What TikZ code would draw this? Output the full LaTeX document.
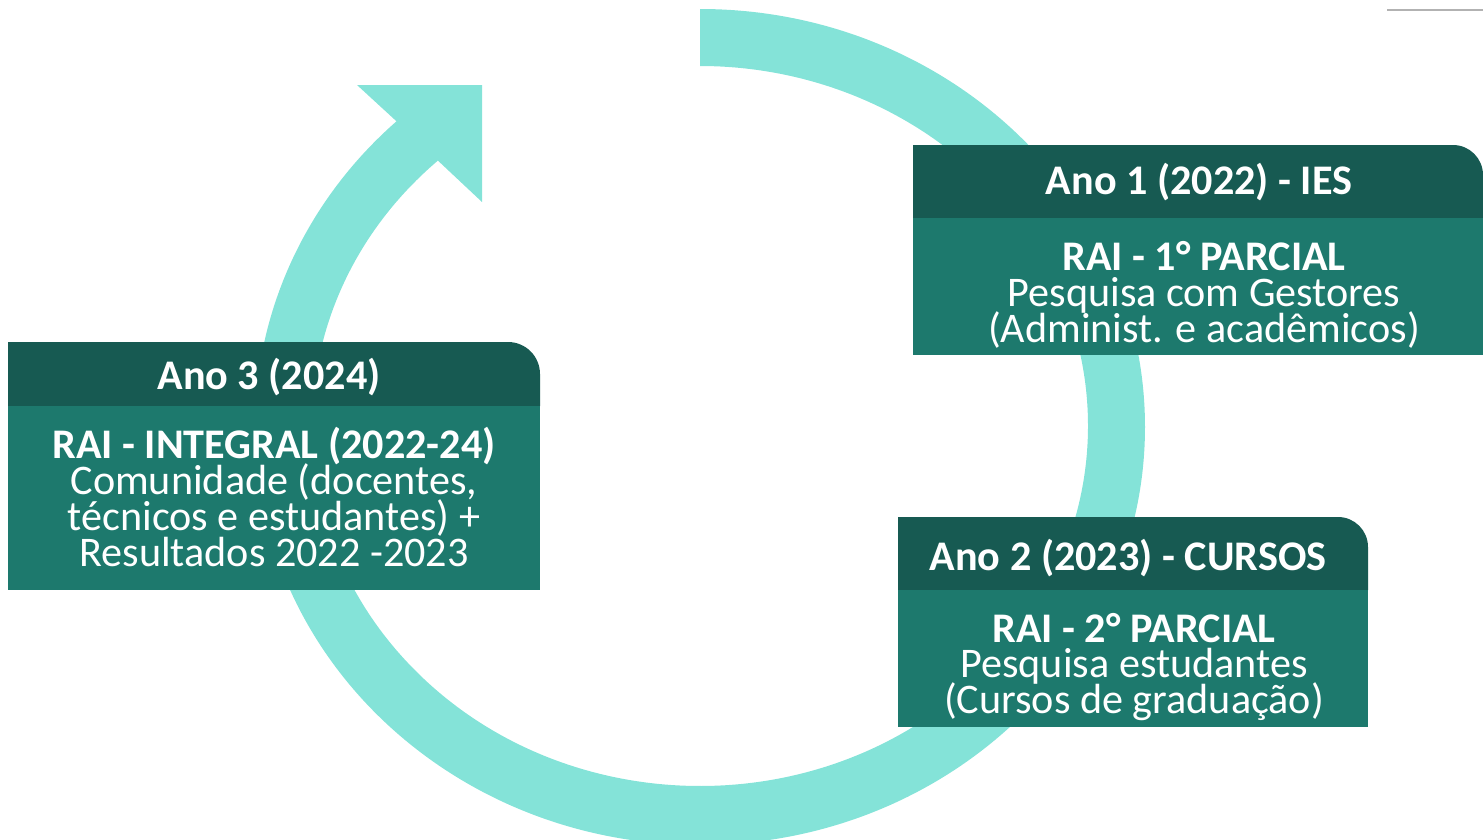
\documentclass[tikz,border=0pt]{standalone}
\usepackage{fontspec}
\setmainfont{Carlito}
\definecolor{anel}{HTML}{84E3D8}
\definecolor{verdeescuro}{HTML}{175A52}
\definecolor{verdemedio}{HTML}{1D796D}
\newcommand{\linhasjuntas}{\lineskiplimit=-20pt\relax}

\begin{document}
\begin{tikzpicture}[scale = 1,
    cabeca/.style={fill=verdeescuro},
    corpo/.style={fill=verdemedio},
    titulo/.style={text=white, font=\fontsize{12}{10.2}\selectfont\bfseries, anchor=base, inner sep=0pt},
    texto/.style={text=white, font=\fontsize{12}{10.2}\selectfont\linhasjuntas, align=center, inner sep=0pt}]
                    \useasboundingbox (0,0) rectangle (14.83,8.39);

                    % seta circular
                    \coordinate (C1) at (3.57,7.54);
                    \coordinate (C2) at (4.82,7.54);
                    \coordinate (C3) at (4.82,6.37);
                    \coordinate (I) at (4.379,6.784);
                    \fill[anel] (7.00,8.30) arc[start angle=90, end angle=-227, x radius=4.45, y radius=4.18]
                        -- (C1) -- (C2) -- (C3) -- (I)
                        arc[start angle=-227.5, end angle=90, x radius=3.88, y radius=3.60] -- cycle;

                    \draw[gray!60, line width=0.6pt] (13.87,8.29) -- (14.83,8.29);

                    % Ano 1
                    \fill[cabeca] (9.13,6.21) -- (9.13,6.94) -- (14.53,6.94) arc[start angle=90, end angle=0, radius=0.30] -- (14.83,6.21) -- cycle;
                    \fill[corpo] (9.13,4.84) rectangle (14.83,6.21);
                    \node[titulo] (ano1) at (11.99,6.45) {Ano 1 (2022) - IES};
                    \node[texto] (rai1) at (12.04,5.44) {\textbf{RAI - 1° PARCIAL}\\Pesquisa com Gestores\\(Administ. e acadêmicos)};

                    % Ano 2
                    \fill[cabeca] (8.98,2.49) -- (8.98,3.22) -- (13.38,3.22) arc[start angle=90, end angle=0, radius=0.30] -- (13.68,2.49) -- cycle;
                    \fill[corpo] (8.98,1.12) rectangle (13.68,2.49);
                    \node[titulo] (ano2) at (11.28,2.69) {Ano 2 (2023) - CURSOS};
                    \node[texto] (rai2) at (11.34,1.72) {\textbf{RAI - 2° PARCIAL}\\Pesquisa estudantes\\(Cursos de graduação)};

                    % Ano 3
                    \fill[cabeca] (0.08,4.33) -- (0.08,4.97) -- (5.08,4.97) arc[start angle=90, end angle=0, radius=0.32] -- (5.40,4.33) -- cycle;
                    \fill[corpo] (0.08,2.49) rectangle (5.40,4.33);
                    \node[titulo] (ano3) at (2.69,4.50) {Ano 3 (2024)};
                    \node[texto] (rai3) at (2.74,3.42) {\textbf{RAI - INTEGRAL (2022-24)}\\Comunidade (docentes,\\técnicos e estudantes) +\\Resultados 2022 -2023};

                \end{tikzpicture}
\end{document}
